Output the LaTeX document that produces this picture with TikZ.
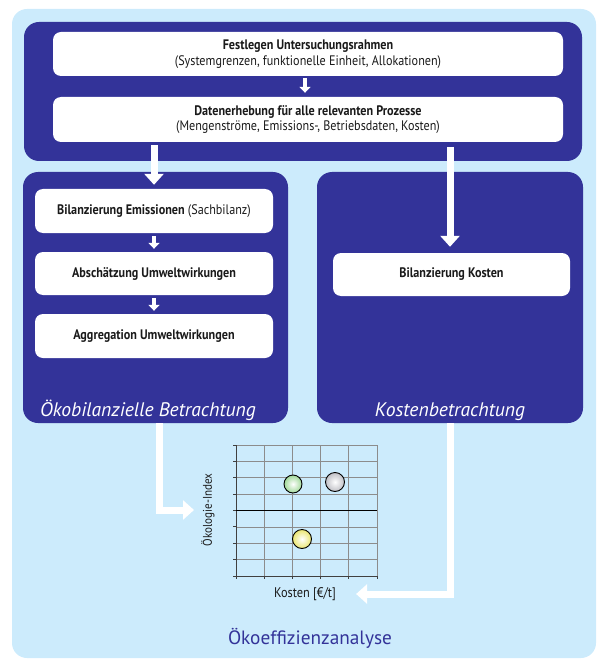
\documentclass[tikz,border=0pt]{standalone}
\usepackage{fontspec}
\setmainfont{PT Sans}
\newfontfamily\boxfont{PT Sans}[FakeStretch=0.88]
\usetikzlibrary{arrows.meta}
\definecolor{dblue}{HTML}{333399}
\definecolor{lblue}{HTML}{CCEBFC}
\definecolor{txt}{HTML}{1A1A1A}
\definecolor{gball}{HTML}{A0D898}
\definecolor{yball}{HTML}{EAE670}
\definecolor{wball}{HTML}{C0C0C6}
\begin{document}
\begin{tikzpicture}[x=1pt,y=-1pt,
  panel/.style={fill=dblue, rounded corners=15pt, draw=none, inner sep=0pt},
  wbox/.style={fill=white, rounded corners=8pt, inner sep=0pt, align=center,
    font=\boxfont\fontsize{13.8}{15.5}\selectfont, text=txt},
  plabel/.style={font=\fontsize{19.6}{22}\selectfont\itshape, text=white, inner sep=0pt},
  bigarrow/.style={draw=white, line width=7pt, -{Triangle[width=19pt,length=11pt]}},
  smallarrow/.style={draw=white, line width=4pt, -{Triangle[width=11pt,length=6pt]}},
  gridline/.style={draw=black!45, line width=0.7pt},
  axisline/.style={draw=black!75, line width=0.9pt},
  ball/.style={draw=black, line width=0.9pt},
  axlabel/.style={font=\boxfont\fontsize{14}{16}\selectfont, text=txt, inner sep=0pt}
]
\useasboundingbox (0,0) rectangle (598,660);
\begin{scope}
  \clip (0,0) rectangle (598,660);
  \fill[lblue, rounded corners=15pt] (12,9) rectangle (596,658);
\end{scope}

% top panel
\node[panel, minimum width=558pt, minimum height=139pt] (top) at (303,91.5) {};
\node[wbox, minimum width=510pt, minimum height=44pt] (w1) at (308,54)
  {\textbf{Festlegen Untersuchungsrahmen}\\(Systemgrenzen, funktionelle Einheit, Allokationen)};
\node[wbox, minimum width=510pt, minimum height=45pt] (w2) at (308,119.5)
  {\textbf{Datenerhebung für alle relevanten Prozesse}\\(Mengenströme, Emissions-, Betriebsdaten, Kosten)};

% left panel
\node[panel, minimum width=265pt, minimum height=251pt] (lp) at (155.5,297.5) {};
\node[wbox, minimum width=238pt, minimum height=44pt] (l1) at (154,211)
  {\textbf{Bilanzierung Emissionen} (Sachbilanz)};
\node[wbox, minimum width=238pt, minimum height=43pt] (l2) at (154,273.5)
  {\textbf{Abschätzung Umweltwirkungen}};
\node[wbox, minimum width=238pt, minimum height=44pt] (l3) at (154,336)
  {\textbf{Aggregation Umweltwirkungen}};
\node[plabel, anchor=base] (lpl) at (148,416) {Ökobilanzielle Betrachtung};

% right panel
\node[panel, minimum width=266pt, minimum height=251pt] (rp) at (450,297.5) {};
\node[wbox, minimum width=237pt, minimum height=43pt] (r1) at (451.5,274.5)
  {\textbf{Bilanzierung Kosten}};
\node[plabel, anchor=base] (rpl) at (450,416) {Kostenbetrachtung};

% arrows inside
\draw[smallarrow, shorten <=2pt, shorten >=4pt] (w1.south -| 305,0) -- (w2.north -| 305,0);
\draw[smallarrow, shorten <=3pt, shorten >=3pt] (l1.south) -- (l2.north);
\draw[smallarrow, shorten <=3pt, shorten >=3pt] (l2.south) -- (l3.north);
\draw[bigarrow, shorten <=3pt, shorten >=4pt] (l1.north |- w2.south) -- (l1.north);
\draw[bigarrow, shorten <=5pt, shorten >=6pt] (450,142) -- (r1.north -| 450,0);

% chart
\foreach \i in {0,...,8} {
  \draw[gridline] (236,445+16.375*\i) -- (377,445+16.375*\i);
  \draw[axisline] (233,445+16.375*\i) -- (236,445+16.375*\i);
}
\foreach \i in {0,...,5} {
  \draw[gridline] (236+28.2*\i,445) -- (236+28.2*\i,576);
  \draw[axisline] (236+28.2*\i,576) -- (236+28.2*\i,579);
}
\draw[axisline] (236,445) -- (236,576) -- (377,576);
\draw[draw=black, line width=1.2pt] (236,510.5) -- (377,510.5);

\shade[inner color=white, outer color=gball] (293,484) circle (9pt);
\draw[ball] (293,484) circle (9pt);
\shade[inner color=white, outer color=wball] (335,482) circle (9.5pt);
\draw[ball] (335,482) circle (9.5pt);
\shade[inner color=white, outer color=yball] (302,539) circle (9.5pt);
\draw[ball] (302,539) circle (9.5pt);

\node[axlabel, font=\boxfont\fontsize{12.6}{14}\selectfont, rotate=90] (ylab) at (208,510) {Ökologie-Index};
\node[axlabel] (xlab) at (305,594) {Kosten [€/t]};

% bottom arrows
\draw[bigarrow, shorten >=14pt] ([xshift=3.5pt]lp.south) |- (ylab.center);
\draw[bigarrow, shorten >=20pt] (rp.south) |- (xlab.east);

\node[font=\fontsize{19.3}{22}\selectfont, text=dblue] (title) at (310,638) {Ökoeffizienzanalyse};
\end{tikzpicture}
\end{document}
